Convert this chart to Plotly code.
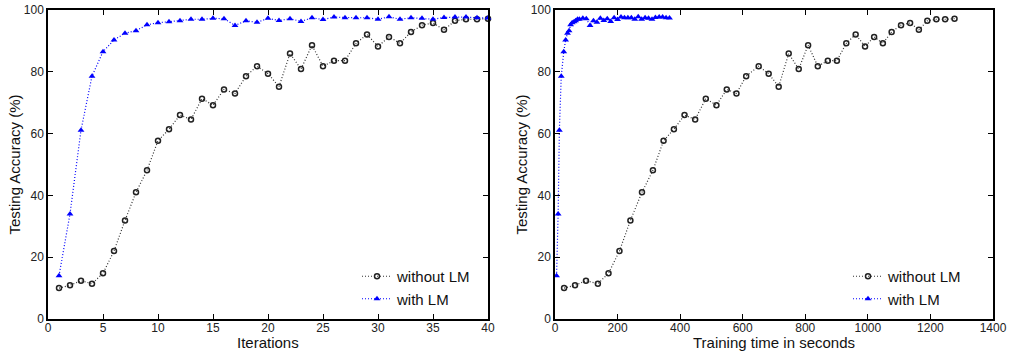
import plotly.graph_objects as go

iterations = list(range(1, 41))

acc_without_lm = [10, 10.9, 12.4, 11.4, 14.8, 22, 31.9, 41, 48.1, 57.7,
                  61.4, 66, 64.6, 71.3, 69.2, 74.3, 73, 78.6, 81.8, 79.4,
                  75.2, 85.9, 80.9, 88.6, 81.8, 83.6, 83.6, 89.2, 92.1, 88.2,
                  91.3, 89.2, 92.9, 95.1, 95.8, 93.6, 96.5, 97, 97, 97.2]

acc_with_lm = [14, 34, 61.1, 78.6, 86.5, 90.3, 92.5, 93.3, 95.2, 95.9,
               96.2, 96.5, 97, 97, 97.3, 97.2, 95, 96.5, 96, 97.3,
               96.6, 97.2, 96.3, 97.5, 96.9, 97.7, 97.5, 97.5, 97.5, 97,
               97.8, 97, 97.5, 97.3, 97, 97.6, 97.7, 97.7, 97.5, 97.4]

time_without_lm = [29, 64, 99, 137, 171, 206, 241, 278, 313, 347,
                   380, 414, 448, 482, 516, 549, 580, 611, 651, 683,
                   715, 747, 779, 809, 840, 872, 901, 931, 961, 991,
                   1020, 1048, 1076, 1106, 1135, 1163, 1190, 1219, 1247, 1277]

time_with_lm = [5, 10, 14, 20, 28, 34, 40, 45, 50, 55,
                61, 66, 72, 78, 89, 100, 112, 123, 134, 145,
                156, 167, 178, 189, 200, 211, 222, 233, 244, 255,
                266, 277, 288, 299, 310, 321, 333, 344, 355, 366]

name_without = "without LM"
name_with = "with LM"
xtitle_left = "Iterations"
xtitle_right = "Training time in seconds"
ytitle = "Testing Accuracy (%)"

FONT = "Liberation Sans, Arial, Helvetica, sans-serif"
BLACK = "#222222"
BLUE = "#0000ff"

def style_without(**kw):
    return dict(mode="lines+markers", name=name_without,
                line=dict(color="#333333", width=1.2, dash="1px,2px"),
                marker=dict(symbol="circle-open", size=5, color=BLACK,
                            line=dict(color=BLACK, width=1.5)),
                cliponaxis=False, **kw)

def style_with(**kw):
    return dict(mode="lines+markers", name=name_with,
                line=dict(color=BLUE, width=1.2, dash="1px,2px"),
                marker=dict(symbol="triangle-up", size=6, color=BLUE),
                cliponaxis=False, **kw)

fig = go.Figure()
fig.add_trace(go.Scatter(x=iterations, y=acc_without_lm, xaxis="x", yaxis="y", legend="legend", **style_without()))
fig.add_trace(go.Scatter(x=iterations, y=acc_with_lm, xaxis="x", yaxis="y", legend="legend", **style_with()))
fig.add_trace(go.Scatter(x=time_without_lm, y=acc_without_lm, xaxis="x2", yaxis="y2", legend="legend2", **style_without()))
fig.add_trace(go.Scatter(x=time_with_lm, y=acc_with_lm, xaxis="x2", yaxis="y2", legend="legend2", **style_with()))

W, H = 1012, 354
ytop, ybot = 1 - 10 / H, 1 - 319 / H
xl = [48 / W, 488 / W]
xr = [555 / W, 993 / W]

axis_common = dict(showline=True, linecolor="black", linewidth=1.5, mirror="ticks",
                   ticks="inside", ticklen=5, tickcolor="black", tickwidth=1,
                   showgrid=False, zeroline=False, automargin=False,
                   tickfont=dict(family=FONT, size=12, color="#222"))

title_font = dict(family=FONT, size=15, color="#111")
legend_font = dict(family=FONT, size=15, color="#111")

fig.update_layout(
    width=W, height=H,
    margin=dict(l=0, r=0, t=0, b=0, pad=0, autoexpand=False),
    paper_bgcolor="white", plot_bgcolor="white",
    font=dict(family=FONT),
    xaxis=dict(domain=xl, range=[0, 40], dtick=5, anchor="y", ticklabelstandoff=-3, **axis_common),
    yaxis=dict(domain=[ybot, ytop], range=[0, 100], dtick=20, anchor="x",
               title=dict(text=ytitle, font=title_font, standoff=0), **axis_common),
    xaxis2=dict(domain=xr, range=[0, 1400], dtick=200, anchor="y2", ticklabelstandoff=-3, **axis_common),
    yaxis2=dict(domain=[ybot, ytop], range=[0, 100], dtick=20, anchor="x2",
                title=dict(text=ytitle, font=title_font, standoff=0), **axis_common),
    legend=dict(x=357 / W, y=1 - 260 / H, xanchor="left", yanchor="top",
                bgcolor="rgba(0,0,0,0)", font=legend_font,
                tracegroupgap=0, itemwidth=30),
    legend2=dict(x=848 / W, y=1 - 260 / H, xanchor="left", yanchor="top",
                 bgcolor="rgba(0,0,0,0)", font=legend_font,
                 tracegroupgap=0, itemwidth=30),
    annotations=[
        dict(text=xtitle_left, x=sum(xl) / 2, y=1 - 342 / H, xref="paper", yref="paper",
             xanchor="center", yanchor="middle", showarrow=False, font=title_font),
        dict(text=xtitle_right, x=sum(xr) / 2, y=1 - 342 / H, xref="paper", yref="paper",
             xanchor="center", yanchor="middle", showarrow=False, font=title_font),
    ],
)

fig.write_html("out.html", config={"displayModeBar": False},
               post_script="document.body.style.margin='0';document.body.style.overflow='hidden';")
